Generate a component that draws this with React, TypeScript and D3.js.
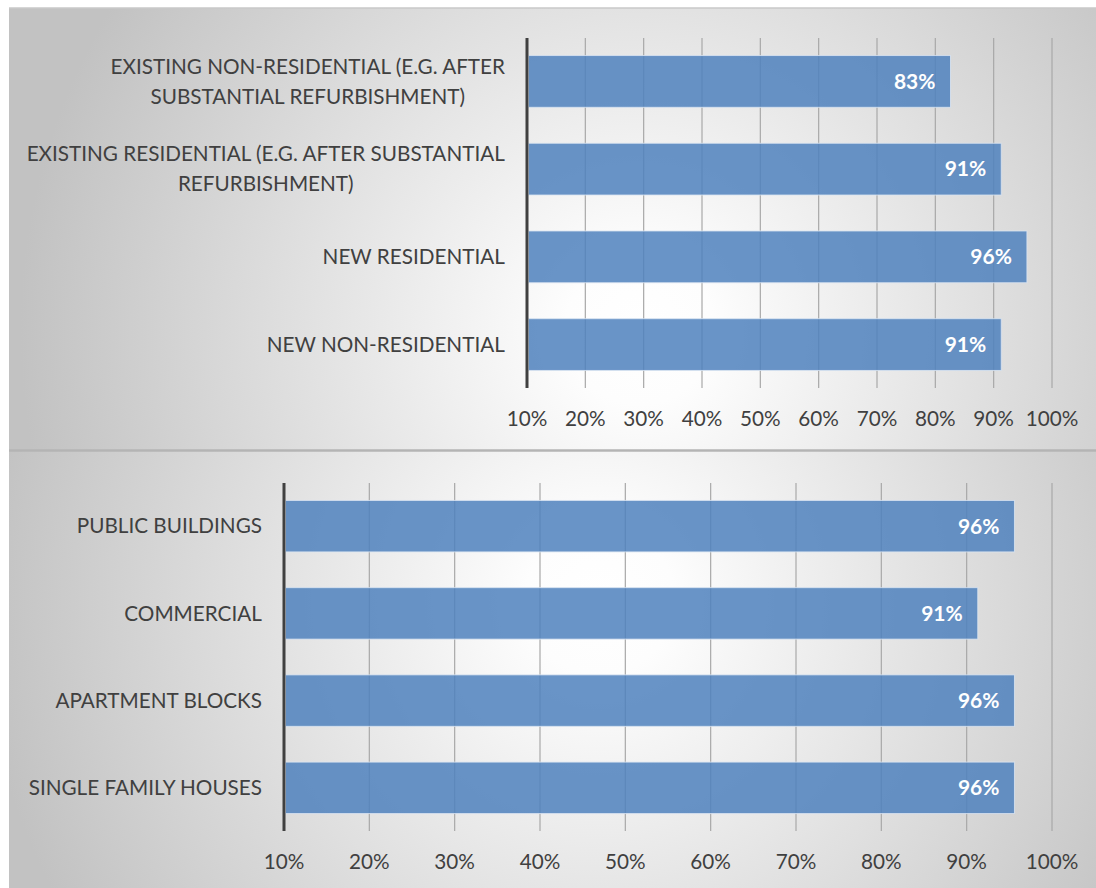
import React from "react";
import * as d3 from "d3";

const topLabels: string[][] = [
  ["EXISTING NON-RESIDENTIAL (E.G. AFTER", "SUBSTANTIAL REFURBISHMENT)"],
  ["EXISTING RESIDENTIAL (E.G. AFTER SUBSTANTIAL", "REFURBISHMENT)"],
  ["NEW RESIDENTIAL"],
  ["NEW NON-RESIDENTIAL"],
];
const topValues: number[] = [82.6, 91.3, 95.7, 91.3];

const bottomLabels: string[][] = [
  ["PUBLIC BUILDINGS"],
  ["COMMERCIAL"],
  ["APARTMENT BLOCKS"],
  ["SINGLE FAMILY HOUSES"],
];
const bottomValues: number[] = [95.6, 91.3, 95.6, 95.6];

const tickValues: number[] = [10, 20, 30, 40, 50, 60, 70, 80, 90, 100];

const FONT = "Lato, 'Noto Sans', sans-serif";
const TEXT = "#404040";

type PanelProps = {
  id: string;
  y0: number;
  y1: number;
  labels: string[][];
  values: number[];
  xLeft: number;
  xRight: number;
  plotTop: number;
  plotBottom: number;
  tickY: number;
  gcx: number;
  gcy: number;
};

function Panel(p: PanelProps) {
  const x = d3.scaleLinear().domain([10, 100]).range([p.xLeft, p.xRight]);
  const idx = p.labels.map((_, i) => String(i));
  const y = d3
    .scaleBand<string>()
    .domain(idx)
    .range([p.plotTop, p.plotBottom])
    .paddingInner(0.41)
    .paddingOuter(0.2);
  const bw = y.bandwidth();
  return (
    <g>
      <defs>
        <radialGradient
          id={p.id}
          gradientUnits="userSpaceOnUse"
          cx={p.gcx}
          cy={p.gcy}
          r={620}
        >
          <stop offset="0" stopColor="#ffffff" />
          <stop offset="0.12" stopColor="#fdfdfd" />
          <stop offset="1" stopColor="#c2c2c2" />
        </radialGradient>
      </defs>
      <rect x={9} y={p.y0} width={1096 - 9} height={p.y1 - p.y0} fill={`url(#${p.id})`} />
      {tickValues.slice(1).map((t) => (
        <line
          key={"g" + t}
          x1={x(t)}
          x2={x(t)}
          y1={p.plotTop}
          y2={p.plotBottom}
          stroke="#a8a8a8"
          strokeWidth={1.2}
        />
      ))}
      {p.values.map((v, i) => (
        <rect
          key={"b" + i}
          x={x(10) + 1.5}
          y={y(String(i))!}
          width={x(v) - x(10) - 1.5}
          height={bw}
          fill="#4f81bd"
          fillOpacity={0.85}
          stroke="#dce6f2"
          strokeOpacity={0.8}
          strokeWidth={1}
        />
      ))}
      {p.values.map((v, i) => (
        <text
          key={"d" + i}
          x={x(v) - 15}
          y={y(String(i))! + bw / 2}
          dy="0.35em"
          textAnchor="end"
          fill="#ffffff"
          fontFamily={FONT}
          fontWeight={700}
          fontSize={21}
        >
          {Math.round(v) + "%"}
        </text>
      ))}
      <line
        x1={x(10)}
        x2={x(10)}
        y1={p.plotTop}
        y2={p.plotBottom}
        stroke="#404040"
        strokeWidth={3}
      />
      {tickValues.map((t) => (
        <text
          key={"t" + t}
          x={x(t)}
          y={p.tickY}
          dy="0.35em"
          textAnchor="middle"
          fill={TEXT}
          fontFamily={FONT}
          fontSize={20.7}
        >
          {t + "%"}
        </text>
      ))}
      {p.labels.map((lines, i) => {
        const cy = y(String(i))! + bw / 2;
        return (
          <text
            key={"c" + i}
            textAnchor="middle"
            fill={TEXT}
            fontFamily={FONT}
            fontSize={20.7}
            ref={(el) => {
              if (!el) return;
              const w = el.getBBox().width;
              el.setAttribute("transform", `translate(${p.xLeft - 22 - w / 2},0)`);
            }}
          >
            {lines.map((ln, j) => (
              <tspan
                key={j}
                x={0}
                y={cy + (j - (lines.length - 1) / 2) * 30}
                dy="0.35em"
              >
                {ln}
              </tspan>
            ))}
          </text>
        );
      })}
    </g>
  );
}

export default function App() {
  return (
    <svg
      width={1096}
      height={888}
      style={{ position: "absolute", left: 0, top: 0, display: "block" }}
    >
      <rect x={0} y={0} width={1096} height={888} fill="#ffffff" />
      <Panel
        id="g1"
        y0={8}
        y1={450}
        labels={topLabels}
        values={topValues}
        xLeft={527}
        xRight={1052}
        plotTop={38}
        plotBottom={388}
        tickY={419}
        gcx={640}
        gcy={330}
      />
      <Panel
        id="g2"
        y0={451}
        y1={888}
        labels={bottomLabels}
        values={bottomValues}
        xLeft={284}
        xRight={1052}
        plotTop={483}
        plotBottom={831}
        tickY={862}
        gcx={600}
        gcy={600}
      />
      <line x1={9} x2={1096} y1={8} y2={8} stroke="#c8c8c8" strokeWidth={1.5} />
      <line x1={9} x2={1096} y1={450.5} y2={450.5} stroke="#b4b4b4" strokeWidth={2.5} />
    </svg>
  );
}
